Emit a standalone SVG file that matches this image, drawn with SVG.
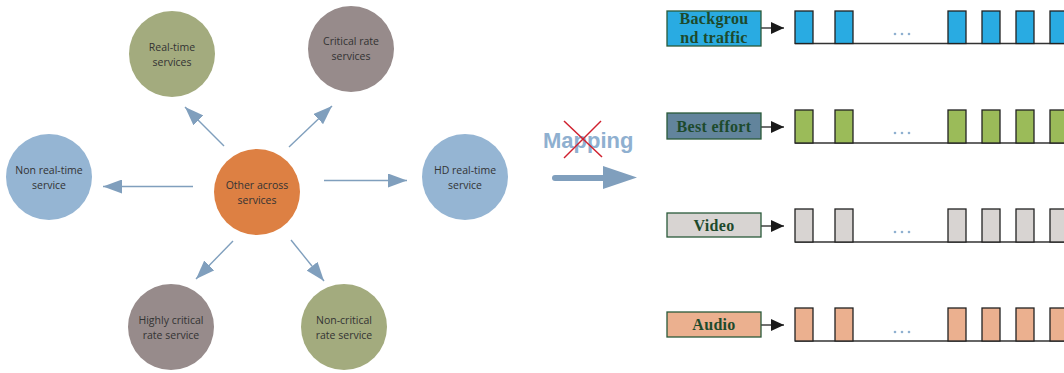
<svg xmlns="http://www.w3.org/2000/svg" width="1064" height="373" viewBox="0 0 1064 373">
<style>
.ct{font-family:"Open Sans","Liberation Sans",sans-serif;font-size:10.5px;fill:#333;text-anchor:middle}
.cn{stroke:none}
.ar{stroke:#809fbd;stroke-width:1.4;fill:none}
.bx{stroke:#2a5a3a;stroke-width:1.3}
.bt{font-family:"Liberation Serif",serif;font-weight:bold;font-size:16px;fill:#1d4a2c;text-anchor:middle;letter-spacing:0.3px}
.pl{stroke:#222;stroke-width:1.3}
.bl{stroke:#333;stroke-width:1.3;fill:none}
.bk{stroke:#222;stroke-width:1.3;fill:none}
.dt{fill:#8fb0d0}
</style>
<defs>
<marker id="ah" viewBox="0 0 19 14" refX="19" refY="7" markerWidth="19" markerHeight="14" markerUnits="userSpaceOnUse" orient="auto">
<path d="M0,0 L19,7 L0,14 Z" fill="#809fbd"/>
</marker>
<marker id="bh" viewBox="0 0 13 12" refX="13" refY="6" markerWidth="13" markerHeight="12" markerUnits="userSpaceOnUse" orient="auto">
<path d="M0,0 L13,6 L0,12 Z" fill="#1a1a1a"/>
</marker>
</defs>

<g id="n-realtime"><circle cx="172" cy="54" r="43" fill="#a3ab7e"/><text class="ct" x="172" y="51">Real-time</text><text class="ct" x="172" y="66">services</text></g>
<g id="n-critical"><circle cx="351" cy="49" r="43" fill="#978b8b"/><text class="ct" x="351" y="45">Critical rate</text><text class="ct" x="351" y="60">services</text></g>
<g id="n-nonrealtime"><circle cx="49" cy="177" r="43" fill="#95b5d3"/><text class="ct" x="49" y="174">Non real-time</text><text class="ct" x="49" y="189">service</text></g>
<g id="n-other"><circle cx="257" cy="192" r="43" fill="#dd8043"/><text class="ct" x="257" y="189">Other across</text><text class="ct" x="257" y="204">services</text></g>
<g id="n-hd"><circle cx="465" cy="177" r="43" fill="#95b5d3"/><text class="ct" x="465" y="174">HD real-time</text><text class="ct" x="465" y="189">service</text></g>
<g id="n-highly"><circle cx="171" cy="327" r="43" fill="#978b8b"/><text class="ct" x="171" y="324">Highly critical</text><text class="ct" x="171" y="339">rate service</text></g>
<g id="n-noncritical"><circle cx="344" cy="327" r="43" fill="#a3ab7e"/><text class="ct" x="344" y="324">Non-critical</text><text class="ct" x="344" y="339">rate service</text></g>

<g id="connectors">
<line class="ar" x1="224" y1="146" x2="185" y2="107" marker-end="url(#ah)"/>
<line class="ar" x1="289" y1="147" x2="332" y2="106" marker-end="url(#ah)"/>
<line class="ar" x1="193" y1="186.5" x2="103" y2="186.5" marker-end="url(#ah)"/>
<line class="ar" x1="324" y1="180.5" x2="407" y2="180.5" marker-end="url(#ah)"/>
<line class="ar" x1="233" y1="241" x2="196" y2="279" marker-end="url(#ah)"/>
<line class="ar" x1="291" y1="240" x2="324" y2="281" marker-end="url(#ah)"/>
<line x1="761" y1="28" x2="784" y2="28" class="bk" marker-end="url(#bh)"/>
<line x1="761" y1="127" x2="784" y2="127" class="bk" marker-end="url(#bh)"/>
<line x1="761" y1="226" x2="784" y2="226" class="bk" marker-end="url(#bh)"/>
<line x1="761" y1="325" x2="784" y2="325" class="bk" marker-end="url(#bh)"/>
</g>

<g id="mapping">
<text x="543" y="148" font-family="'Liberation Sans',sans-serif" font-weight="bold" font-size="22" fill="#8fb0d0">Mapping</text>
<line x1="564" y1="121" x2="602" y2="157" stroke="#d0202e" stroke-width="1.5"/>
<line x1="601" y1="121" x2="564" y2="158" stroke="#d0202e" stroke-width="1.5"/>
<line x1="555" y1="178" x2="606" y2="178" stroke="#809fbd" stroke-width="6" stroke-linecap="round"/>
<path d="M603,166 L637,177.5 L603,189 Z" fill="#809fbd"/>
</g>

<g id="q-background">
<rect class="bx" x="667" y="11" width="94" height="35" fill="#29abe2"/>
<text class="bt" x="714" y="24">Backgrou</text>
<text class="bt" x="714" y="43">nd traffic</text>
<line class="bl" x1="795" y1="43.5" x2="1064" y2="43.5"/>
<g fill="#29abe2" class="pl">
<rect x="795" y="11" width="18" height="32.5"/><rect x="835" y="11" width="18" height="32.5"/>
<rect x="948" y="11" width="18" height="32.5"/><rect x="982" y="11" width="18" height="32.5"/>
<rect x="1016" y="11" width="18" height="32.5"/><rect x="1050" y="11" width="18" height="32.5"/>
</g>
<circle class="dt" cx="895" cy="34" r="1.3"/><circle class="dt" cx="902" cy="34" r="1.3"/><circle class="dt" cx="909" cy="34" r="1.3"/>
</g>

<g id="q-besteffort">
<rect class="bx" x="667" y="113" width="94" height="26" fill="#62849c"/>
<text class="bt" x="714" y="132">Best effort</text>
<line class="bl" x1="795" y1="143" x2="1064" y2="143"/>
<g fill="#9bbb59" class="pl">
<rect x="795" y="110" width="18" height="33"/><rect x="835" y="110" width="18" height="33"/>
<rect x="948" y="110" width="18" height="33"/><rect x="982" y="110" width="18" height="33"/>
<rect x="1016" y="110" width="18" height="33"/><rect x="1050" y="110" width="18" height="33"/>
</g>
<circle class="dt" cx="895" cy="133" r="1.3"/><circle class="dt" cx="902" cy="133" r="1.3"/><circle class="dt" cx="909" cy="133" r="1.3"/>
</g>

<g id="q-video">
<rect class="bx" x="667" y="213" width="94" height="24" fill="#d8d4d2"/>
<text class="bt" x="714" y="231">Video</text>
<line class="bl" x1="795" y1="242" x2="1064" y2="242"/>
<g fill="#d8d4d2" class="pl">
<rect x="795" y="209" width="18" height="33"/><rect x="835" y="209" width="18" height="33"/>
<rect x="948" y="209" width="18" height="33"/><rect x="982" y="209" width="18" height="33"/>
<rect x="1016" y="209" width="18" height="33"/><rect x="1050" y="209" width="18" height="33"/>
</g>
<circle class="dt" cx="895" cy="232" r="1.3"/><circle class="dt" cx="902" cy="232" r="1.3"/><circle class="dt" cx="909" cy="232" r="1.3"/>
</g>

<g id="q-audio">
<rect class="bx" x="667" y="312" width="94" height="25" fill="#ebb08f"/>
<text class="bt" x="714" y="330">Audio</text>
<line class="bl" x1="795" y1="341" x2="1064" y2="341"/>
<g fill="#ebb08f" class="pl">
<rect x="795" y="308" width="18" height="33"/><rect x="835" y="308" width="18" height="33"/>
<rect x="948" y="308" width="18" height="33"/><rect x="982" y="308" width="18" height="33"/>
<rect x="1016" y="308" width="18" height="33"/><rect x="1050" y="308" width="18" height="33"/>
</g>
<circle class="dt" cx="895" cy="332" r="1.3"/><circle class="dt" cx="902" cy="332" r="1.3"/><circle class="dt" cx="909" cy="332" r="1.3"/>
</g>
</svg>
